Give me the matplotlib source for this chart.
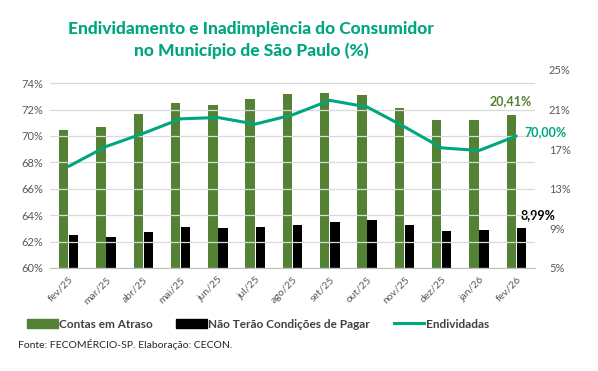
import numpy as np
import matplotlib
matplotlib.use("Agg")
from matplotlib import pyplot as plt
from matplotlib.patches import Patch
from matplotlib.lines import Line2D

meses = ["fev/25", "mar/25", "abr/25", "mai/25", "jun/25", "jul/25", "ago/25",
         "set/25", "out/25", "nov/25", "dez/25", "jan/26", "fev/26"]
contas_atraso = [18.9, 19.2, 20.6, 21.7, 21.5, 22.1, 22.6, 22.7, 22.5, 21.2, 20.0, 19.9, 20.41]
nao_pagar = [8.3, 8.1, 8.6, 9.1, 9.0, 9.1, 9.3, 9.6, 9.8, 9.3, 8.7, 8.8, 8.99]
endividadas = [67.7, 69.2, 70.2, 71.3, 71.4, 70.9, 71.6, 72.7, 72.2, 70.7, 69.1, 68.9, 70.00]

verde_barra = "#548235"
verde_linha = "#00A67E"
cinza = "#595959"

plt.rcParams['font.family'] = ['Lato', 'DejaVu Sans']

fig = plt.figure(figsize=(5.98, 3.71), dpi=100)
ax1 = fig.add_axes([50/598, 1-268/371, 485/598, 198/371])
ax2 = ax1.twinx()

x = np.arange(len(meses))
w = 0.25
ax2.bar(x - w/2 - 0.01, contas_atraso, w, color=verde_barra, zorder=2)
ax2.bar(x + w/2 + 0.01, nao_pagar, w, color="black", zorder=2)
ax1.plot(x, endividadas, color=verde_linha, lw=2.2, zorder=5, solid_capstyle="round")

# eixo esquerdo (linha)
ax1.set_ylim(60, 75)
ax1.set_yticks(np.arange(60, 75, 2))
ax1.set_yticklabels([f"{v}%" for v in range(60, 75, 2)], color=cinza, fontsize=8)
ax1.grid(axis="y", color="#d9d9d9", lw=0.9)
ax1.set_axisbelow(True)
ax1.set_xlim(-0.5, len(meses) - 0.5)
ax1.set_xticks(x)
ax1.set_xticklabels(meses, rotation=45, ha="right", rotation_mode="anchor",
                    color=cinza, fontsize=7.5)
ax1.tick_params(axis="both", length=0, pad=5)

# eixo direito (barras)
ax2.set_ylim(5, 25)
ax2.set_yticks(np.arange(5, 26, 4))
ax2.set_yticklabels([f"{v}%" for v in range(5, 26, 4)], color=cinza, fontsize=8)
ax2.tick_params(axis="y", length=0, pad=10)

# a linha por cima das barras
ax1.set_zorder(ax2.get_zorder() + 1)
ax1.patch.set_visible(False)

for a in (ax1, ax2):
    for s in a.spines.values():
        s.set_visible(False)
ax1.spines["bottom"].set_visible(True)
ax1.spines["bottom"].set_color("#bfbfbf")

# rotulos do ultimo mes
ult = len(meses) - 1
ax2.annotate(f"{contas_atraso[-1]:.2f}%".replace(".", ","), (ult, contas_atraso[-1]),
             xytext=(-4, 6), textcoords="offset points", ha="center", va="bottom",
             color=verde_barra, fontsize=9, fontweight="bold")
ax2.annotate(f"{nao_pagar[-1]:.2f}%".replace(".", ","), (ult + 0.12, nao_pagar[-1]),
             xytext=(0, 5), textcoords="offset points", ha="left", va="bottom",
             color="black", fontsize=9, fontweight="bold")
ax1.annotate(f"{endividadas[-1]:.2f}%".replace(".", ","), (ult, endividadas[-1]),
             xytext=(6, 3), textcoords="offset points", ha="left", va="center",
             color=verde_linha, fontsize=9, fontweight="bold")

fig.text(251/598, 1-40/371, "Endividamento e Inadimplência do Consumidor\nno Município de São Paulo (%)",
         ha="center", va="center", color=verde_linha, fontsize=12.5, fontweight="black",
         linespacing=1.45)

handles = [Patch(color=verde_barra), Patch(color="black"),
           Line2D([0], [0], color=verde_linha, lw=2.2)]
labels = ["Contas em Atraso", "Não Terão Condições de Pagar", "Endividadas"]
leg = fig.legend(handles, labels, loc="center", bbox_to_anchor=(258/598, 1-324/371),
                 ncol=3, frameon=False, handlelength=2.6, handleheight=0.7,
                 handletextpad=0.1, columnspacing=2.0,
                 prop={"size": 8.5, "weight": "bold", "family": ["Lato", "DejaVu Sans"]})
for t in leg.get_texts():
    t.set_color("#404040")

fig.text(18/598, 1-344/371, "Fonte: FECOMÉRCIO-SP. Elaboração: CECON.",
         ha="left", va="center", fontsize=7.5, color="#262626")

fig.savefig("out.png", dpi=100)
plt.close()
